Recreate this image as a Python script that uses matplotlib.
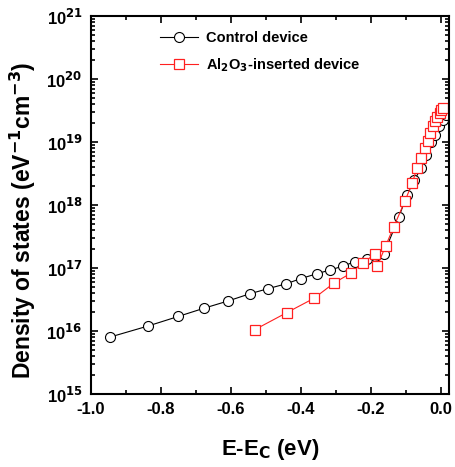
import matplotlib
matplotlib.use("Agg")
import matplotlib.pyplot as plt
from matplotlib.ticker import LogLocator, MultipleLocator, NullFormatter

# Control device
ctrl_x = [-0.946, -0.837, -0.751, -0.677, -0.608, -0.546, -0.494, -0.443, -0.400,
          -0.355, -0.317, -0.280, -0.246, -0.211, -0.189, -0.163, -0.120, -0.097,
          -0.076, -0.056, -0.042, -0.028, -0.016, -0.005, 0.005, 0.015]
ctrl_y = [8.0e15, 1.2e16, 1.7e16, 2.3e16, 3.0e16, 3.9e16, 4.7e16, 5.6e16, 6.8e16,
          8.1e16, 9.3e16, 1.07e17, 1.26e17, 1.38e17, 1.55e17, 1.68e17, 6.5e17, 1.45e18,
          2.5e18, 3.9e18, 6.3e18, 1.0e19, 1.3e19, 1.8e19, 2.2e19, 2.7e19]

# Al2O3-inserted device
al_x = [-0.532, -0.441, -0.363, -0.305, -0.257, -0.223, -0.189, -0.182, -0.158,
        -0.135, -0.103, -0.082, -0.068, -0.057, -0.046, -0.037, -0.030, -0.023,
        -0.016, -0.010, -0.004, 0.001, 0.006]
al_y = [1.05e16, 1.95e16, 3.3e16, 5.8e16, 8.3e16, 1.2e17, 1.66e17, 1.07e17, 2.24e17,
        4.5e17, 1.15e18, 2.24e18, 3.9e18, 5.6e18, 7.9e18, 1.05e19, 1.38e19, 1.78e19,
        2.14e19, 2.5e19, 2.9e19, 3.2e19, 3.5e19]

x_ticks = [-1.0, -0.8, -0.6, -0.4, -0.2, 0.0]
x_tick_labels = ['-1.0', '-0.8', '-0.6', '-0.4', '-0.2', '0.0']
y_ticks = [1e15, 1e16, 1e17, 1e18, 1e19, 1e20, 1e21]
y_tick_labels = ['10$^{15}$', '10$^{16}$', '10$^{17}$', '10$^{18}$', '10$^{19}$', '10$^{20}$', '10$^{21}$']

plt.rcParams['font.family'] = ['Liberation Sans', 'DejaVu Sans']
plt.rcParams['font.weight'] = 'bold'
plt.rcParams['mathtext.default'] = 'bf'

fig = plt.figure(figsize=(4.55, 4.67), dpi=100)
ax = fig.add_axes([91/455, 1 - 394/467, (449-91)/455, (394-16)/467])

ax.plot(ctrl_x, ctrl_y, '-', color='black', lw=0.8, marker='o', ms=7.2,
        mfc='white', mec='black', mew=0.8, label='Control device')
ax.plot(al_x, al_y, '-', color='#ff2020', lw=0.8, marker='s', ms=7.2,
        mfc='white', mec='#ff2020', mew=0.9, label='Al$_2$O$_3$-inserted device')

ax.set_yscale('log')
ax.set_xlim(-1.0, 0.023)
ax.set_ylim(1e15, 1e21)
ax.set_xticks(x_ticks)
ax.set_xticklabels(x_tick_labels)
ax.xaxis.set_minor_locator(MultipleLocator(0.1))
ax.set_yticks(y_ticks)
ax.set_yticklabels(y_tick_labels)
ax.yaxis.set_minor_locator(LogLocator(base=10, subs=range(2, 10), numticks=20))
ax.yaxis.set_minor_formatter(NullFormatter())

ax.tick_params(which='both', direction='in', top=True, right=True, width=1.2)
ax.tick_params(which='major', length=5, labelsize=12, pad=6)
ax.tick_params(which='minor', length=2.8)
for lbl in ax.get_xticklabels() + ax.get_yticklabels():
    lbl.set_fontweight('bold')
for s in ax.spines.values():
    s.set_linewidth(1.5)

ax.set_xlabel('E-E$_C$ (eV)', fontsize=16, fontweight='bold')
ax.set_ylabel('Density of states (eV$^{-1}$cm$^{-3}$)', fontsize=16.5, fontweight='bold')
ax.xaxis.set_label_coords(0.5, -0.113)
ax.yaxis.set_label_coords(-0.148, 0.46)

leg = ax.legend(loc='upper left', bbox_to_anchor=(0.155, 0.995), frameon=False,
                prop={'weight': 'bold', 'size': 10.5}, handlelength=2.6,
                labelspacing=0.75, handletextpad=0.6)

fig.savefig('out.png', dpi=100)
